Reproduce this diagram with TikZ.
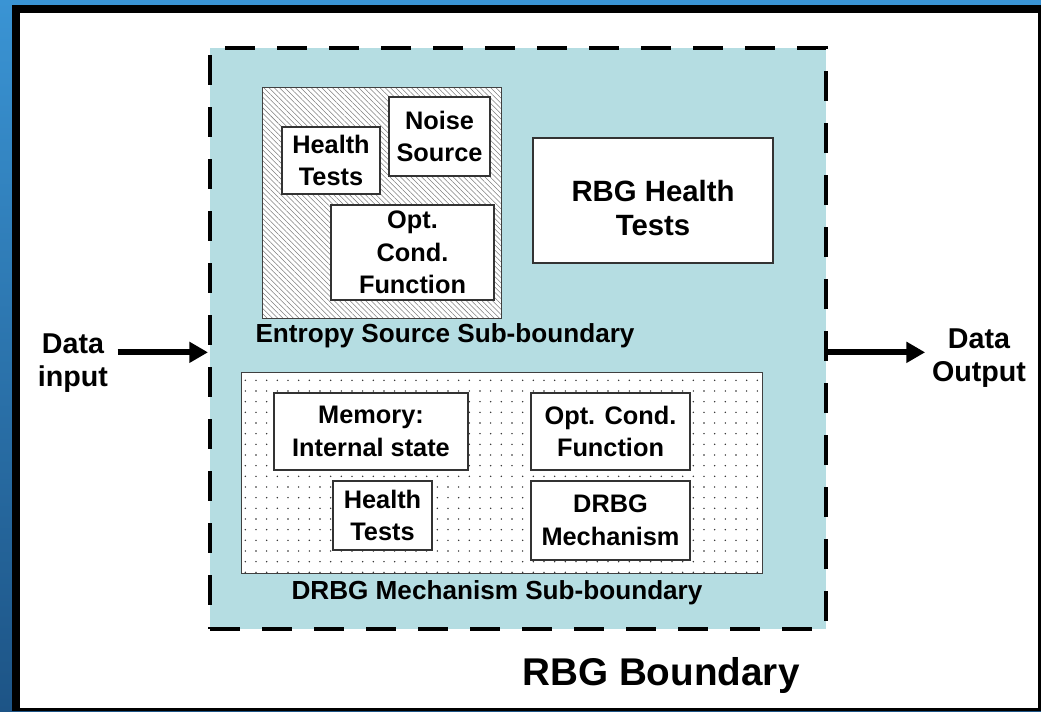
\documentclass[tikz,border=0pt]{standalone}
\usepackage{fontspec}
\setmainfont{Liberation Sans}
\usetikzlibrary{arrows.meta,patterns.meta,positioning}
\usepackage{xcolor}
\definecolor{rbgblue}{RGB}{181,221,226}
\definecolor{frametop}{RGB}{58,148,212}
\definecolor{framebot}{RGB}{29,84,134}

\begin{document}
\begin{tikzpicture}[x=0.75pt, y=-0.75pt, >=Stealth,
    font=\bfseries\fontsize{19}{24.5}\selectfont,
    box/.style={draw=black!80, fill=white, line width=0.9pt, align=center,
                inner sep=0pt},
    subb/.style={draw=black!75, line width=0.7pt, inner sep=0pt},
    lbl/.style={align=center, inner sep=1pt},
    bigarr/.style={-{Triangle[length=14pt,width=15pt]}, line width=4.5pt}]

  \useasboundingbox (0,0) rectangle (1041,711);

  %% Slide frame
  \shade[top color=frametop, bottom color=framebot] (0,0) rectangle (1041,711);
  \fill[black] (12,5) rectangle (1041,711);
  \fill[white] (20,13) rectangle (1038,708);

  %% RBG boundary (dashed)
  \node[draw, fill=rbgblue, line width=3pt, dash pattern=on 22.5pt off 16.5pt,
        minimum width=462pt, minimum height=435.75pt, inner sep=0pt]
        (rbg) at (518,338.5) {};

  %% Entropy source sub-boundary
  \node[subb, preaction={fill=white},
        pattern={Lines[angle=-45,distance=2.8pt,line width=0.4pt]},
        pattern color=black!50,
        minimum width=179.25pt, minimum height=173.25pt]
        (esb) at (381.5,202.5) {};
  \node[box, minimum width=73.5pt,  minimum height=50.25pt]
        (eht)  at (331,160.5)   {Health\\Tests};
  \node[box, minimum width=75.75pt, minimum height=59.25pt]
        (nsrc) at (439.5,136.5) {Noise\\Source};
  \node[box, minimum width=122.25pt, minimum height=71.25pt]
        (ecf)  at (412.5,252.5) {Opt.\\Cond.\\Function};
  \node[lbl, font=\bfseries\fontsize{19.6}{24}\selectfont]
        (esl) at (445,336) {Entropy Source Sub-boundary};

  %% RBG health tests
  \node[box, minimum width=180pt, minimum height=93.75pt,
        label={[lbl, yshift=-6pt, font=\bfseries\fontsize{22}{25.5}\selectfont]
               center:{RBG Health\\Tests}}]
        (rht) at (653,200.5) {};

  %% DRBG mechanism sub-boundary
  \node[subb, preaction={fill=white},
        pattern={Dots[distance=8pt,radius=0.6pt]},
        pattern color=black!85,
        minimum width=390.75pt, minimum height=150.75pt]
        (dsb) at (501.5,472.5) {};
  \node[box, minimum width=145.5pt, minimum height=57.75pt]
        (mem)  at (371,431.5)   {Memory:\\Internal state};
  \node[box, minimum width=74.25pt, minimum height=51.75pt]
        (dht)  at (382.5,515.5) {Health\\Tests};
  \node[box, minimum width=119.25pt, minimum height=57.75pt]
        (dcf)  at (610.5,431.5) {Opt. Cond.\\Function};
  \node[box, minimum width=119.25pt, minimum height=59.25pt]
        (mech) at (610.5,520.5) {DRBG\\Mechanism};
  \node[lbl, font=\bfseries\fontsize{19.6}{24}\selectfont]
        (dsl) at (497,593) {DRBG Mechanism Sub-boundary};

  %% Data in / out
  \node[lbl, font=\bfseries\fontsize{21.5}{25}\selectfont]
        (din)  at (73,363)  {Data\\input};
  \node[lbl, font=\bfseries\fontsize{21.5}{25}\selectfont]
        (dout) at (979,358) {Data\\Output};
  \coordinate (inarr)  at ([yshift=8pt, xshift=6pt]din.east);
  \coordinate (outarr) at (rbg.east |- inarr);
  \draw[bigarr] (inarr) -- (inarr -| rbg.west);
  \draw[bigarr] (outarr) -- ([xshift=-4pt]outarr -| dout.west);

  %% Title
  \node[lbl, font=\bfseries\fontsize{29}{34}\selectfont]
        (ttl) at (661,675) {RBG Boundary};
\end{tikzpicture}
\end{document}
